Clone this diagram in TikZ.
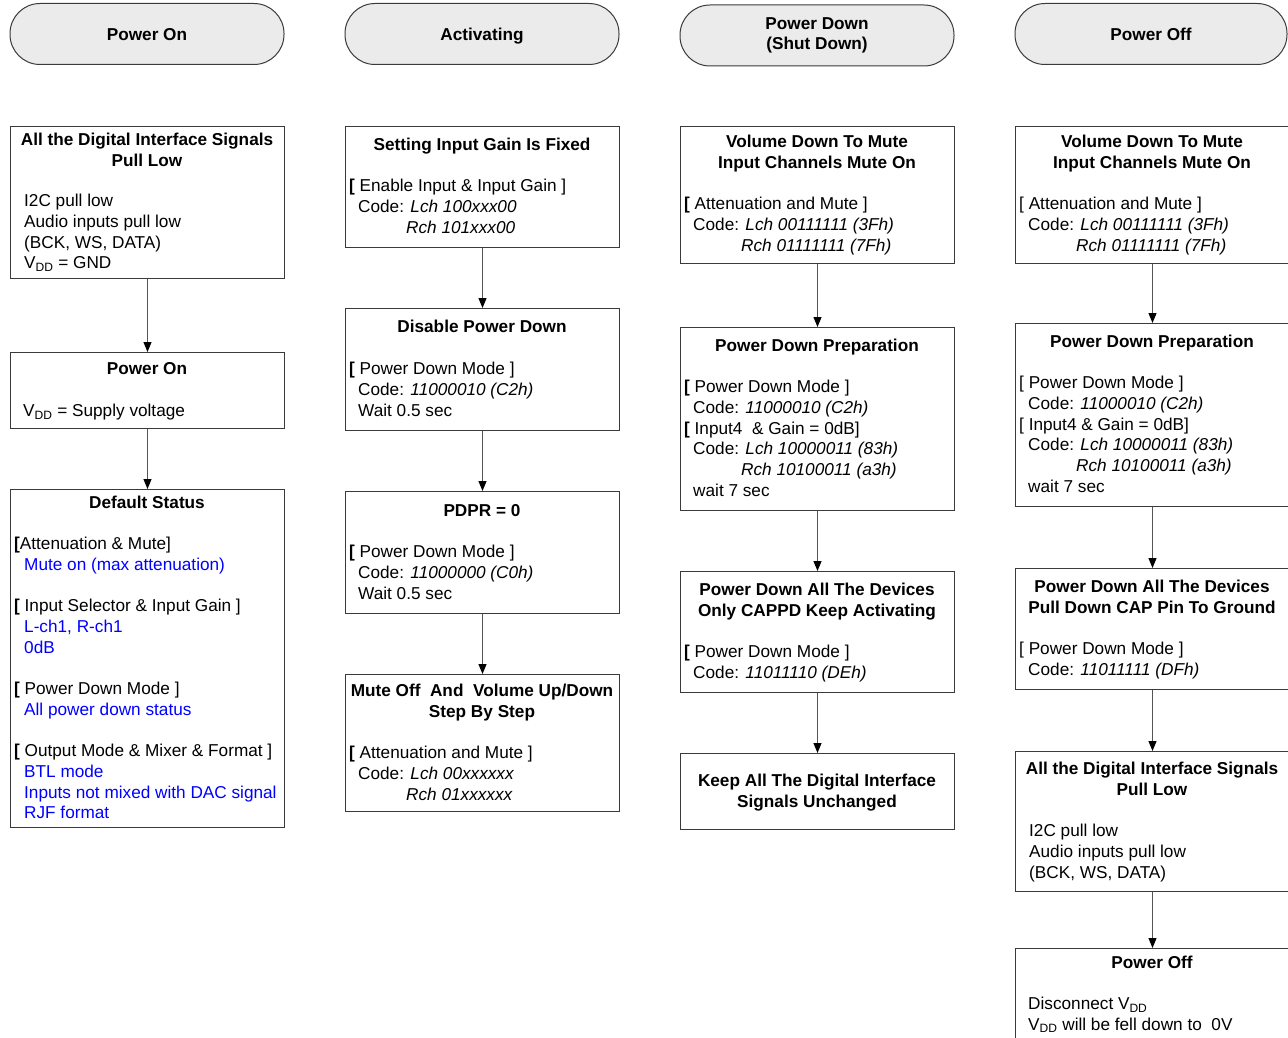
\documentclass[tikz,border=0pt]{standalone}
\usepackage{fontspec}
\setmainfont{Liberation Sans}
\usetikzlibrary{arrows.meta}
\definecolor{hdrfill}{HTML}{EBEBEB}
\definecolor{edge}{HTML}{3A3A3A}
\definecolor{arrline}{HTML}{555555}
\newcommand{\vdd}{V\textsubscript{DD}}
\newcommand{\ob}{\textbf{[}}
\newcommand{\lb}{{[}}
\begin{document}
\begin{tikzpicture}[x=1pt,y=-1pt,
  hdr/.style={draw=edge, line width=1pt, fill=hdrfill, rounded corners=30pt,
    minimum width=274pt, minimum height=61pt, inner sep=0pt, align=center,
    font=\bfseries\fontsize{17.2}{20.7}\selectfont},
  sbox/.style={draw=edge, line width=1pt, minimum width=274pt, anchor=north west, inner sep=0pt},
  ttl/.style={font=\bfseries\fontsize{17.2}{20.7}\selectfont, align=center, inner sep=0pt, anchor=north},
  bdy/.style={font=\fontsize{17.2}{20.7}\selectfont, align=left, inner sep=0pt, anchor=north west},
  arr/.style={draw=arrline, line width=1pt, -{Triangle[length=10pt,width=8pt,color=black]}}
]
\useasboundingbox (0,0) rectangle (1288,1038);
\begin{scope}
\clip (0,0) rectangle (1288,1038);

% headers
\node[hdr, text depth=0pt] (h1) at (147,34) {Power On};
\node[hdr, text depth=0pt] (h2) at (482,34) {Activating};
\node[hdr] (h3) at (817,35.5) {Power Down\\(Shut Down)};
\node[hdr, text depth=0pt, minimum width=272pt] (h4) at (1151,34) {Power Off};

% column 1
\node[sbox, minimum height=152pt] (a1) at (10,126) {};
\node[sbox, minimum height=76pt] (a2) at (10,352) {};
\node[sbox, minimum height=338pt] (a3) at (10,489) {};
\node[ttl] (a1t) at (147,131) {\strut All the Digital Interface Signals\\Pull Low};
\node[bdy] (a1b) at (24,192) {\strut I2C pull low\\Audio inputs pull low\\(BCK, WS, DATA)\\\vdd{} = GND};
\node[ttl] (a2t) at (147,360) {\strut Power On};
\node[bdy] (a2b) at (23,402) {\strut\vdd{} = Supply voltage};
\node[ttl] (a3t) at (147,494) {\strut Default Status};
\node[bdy] (a3b) at (14,535) {\strut\ob Attenuation \& Mute]\\
  \hspace*{10pt}{\color{blue}Mute on (max attenuation)}\\ \mbox{}\\
  \ob\ Input Selector \& Input Gain ]\\
  \hspace*{10pt}{\color{blue}L-ch1, R-ch1}\\
  \hspace*{10pt}{\color{blue}0dB}\\ \mbox{}\\
  \ob\ Power Down Mode ]\\
  \hspace*{10pt}{\color{blue}All power down status}\\ \mbox{}\\
  \ob\ Output Mode \& Mixer \& Format ]\\
  \hspace*{10pt}{\color{blue}BTL mode}\\
  \hspace*{10pt}{\color{blue}Inputs not mixed with DAC signal}\\
  \hspace*{10pt}{\color{blue}RJF format}};

% column 2
\node[sbox, minimum height=121pt] (b1) at (345,126) {};
\node[sbox, minimum height=122pt] (b2) at (345,308) {};
\node[sbox, minimum height=122pt] (b3) at (345,491) {};
\node[sbox, minimum height=137pt] (b4) at (345,674) {};
\node[ttl] (b1t) at (482,136) {\strut Setting Input Gain Is Fixed};
\node[bdy] (b1b) at (349,177) {\strut\ob\ Enable Input \& Input Gain ]\\
  \hspace*{9pt}Code: \textit{Lch 100xxx00}\\
  \hspace*{57pt}\textit{Rch 101xxx00}};
\node[ttl] (b2t) at (482,318) {\strut Disable Power Down};
\node[bdy] (b2b) at (349,360) {\strut\ob\ Power Down Mode ]\\
  \hspace*{9pt}Code: \textit{11000010 (C2h)}\\
  \hspace*{9pt}Wait 0.5 sec};
\node[ttl] (b3t) at (482,502) {\strut PDPR = 0};
\node[bdy] (b3b) at (349,543) {\strut\ob\ Power Down Mode ]\\
  \hspace*{9pt}Code: \textit{11000000 (C0h)}\\
  \hspace*{9pt}Wait 0.5 sec};
\node[ttl] (b4t) at (482,682) {\strut Mute Off\ \ And\ \ Volume Up/Down\\Step By Step};
\node[bdy] (b4b) at (349,744) {\strut\ob\ Attenuation and Mute ]\\
  \hspace*{9pt}Code: \textit{Lch 00xxxxxx}\\
  \hspace*{57pt}\textit{Rch 01xxxxxx}};

% column 3
\node[sbox, minimum height=137pt] (c1) at (680,126) {};
\node[sbox, minimum height=183pt] (c2) at (680,327) {};
\node[sbox, minimum height=121pt] (c3) at (680,571) {};
\node[sbox, minimum height=76pt] (c4) at (680,753) {};
\node[ttl] (c1t) at (817,133) {\strut Volume Down To Mute\\Input Channels Mute On};
\node[bdy] (c1b) at (684,195) {\strut\ob\ Attenuation and Mute ]\\
  \hspace*{9pt}Code: \textit{Lch 00111111 (3Fh)}\\
  \hspace*{57pt}\textit{Rch 01111111 (7Fh)}};
\node[ttl] (c2t) at (817,337) {\strut Power Down Preparation};
\node[bdy] (c2b) at (684,378) {\strut\ob\ Power Down Mode ]\\
  \hspace*{9pt}Code: \textit{11000010 (C2h)}\\
  \ob\ Input4\ \ \& Gain = 0dB]\\
  \hspace*{9pt}Code: \textit{Lch 10000011 (83h)}\\
  \hspace*{57pt}\textit{Rch 10100011 (a3h)}\\
  \hspace*{9pt}wait 7 sec};
\node[ttl] (c3t) at (817,581) {\strut Power Down All The Devices\\ Only CAPPD Keep Activating};
\node[bdy] (c3b) at (684,643) {\strut\ob\ Power Down Mode ]\\
  \hspace*{9pt}Code: \textit{11011110 (DEh)}};
\node[ttl] (c4t) at (817,772) {\strut Keep All The Digital Interface\\Signals Unchanged};

% column 4
\node[sbox, minimum height=137pt] (d1) at (1015,126) {};
\node[sbox, minimum height=183pt] (d2) at (1015,323) {};
\node[sbox, minimum height=121pt] (d3) at (1015,568) {};
\node[sbox, minimum height=140pt] (d4) at (1015,751) {};
\node[sbox, minimum height=140pt] (d5) at (1015,948) {};
\node[ttl] (d1t) at (1152,133) {\strut Volume Down To Mute\\Input Channels Mute On};
\node[bdy] (d1b) at (1019,195) {\strut\lb\ Attenuation and Mute ]\\
  \hspace*{9pt}Code: \textit{Lch 00111111 (3Fh)}\\
  \hspace*{57pt}\textit{Rch 01111111 (7Fh)}};
\node[ttl] (d2t) at (1152,333) {\strut Power Down Preparation};
\node[bdy] (d2b) at (1019,374) {\strut\lb\ Power Down Mode ]\\
  \hspace*{9pt}Code: \textit{11000010 (C2h)}\\
  \lb\ Input4 \& Gain = 0dB]\\
  \hspace*{9pt}Code: \textit{Lch 10000011 (83h)}\\
  \hspace*{57pt}\textit{Rch 10100011 (a3h)}\\
  \hspace*{9pt}wait 7 sec};
\node[ttl] (d3t) at (1152,578) {\strut Power Down All The Devices\\Pull Down CAP Pin To Ground};
\node[bdy] (d3b) at (1019,640) {\strut\lb\ Power Down Mode ]\\
  \hspace*{9pt}Code: \textit{11011111 (DFh)}};
\node[ttl] (d4t) at (1152,760) {\strut All the Digital Interface Signals\\Pull Low};
\node[bdy] (d4b) at (1029,822) {\strut I2C pull low\\Audio inputs pull low\\(BCK, WS, DATA)};
\node[ttl] (d5t) at (1152,954) {\strut Power Off};
\node[bdy] (d5b) at (1028,995) {\strut Disconnect \vdd\\\vdd{} will be fell down to\ \ 0V};

% connectors
\draw[arr] (a1.south) -- (a2.north);
\draw[arr] (a2.south) -- (a3.north);
\draw[arr] (b1.south) -- (b2.north);
\draw[arr] (b2.south) -- (b3.north);
\draw[arr] (b3.south) -- (b4.north);
\draw[arr] (c1.south) -- (c2.north);
\draw[arr] (c2.south) -- (c3.north);
\draw[arr] (c3.south) -- (c4.north);
\draw[arr] (d1.south) -- (d2.north);
\draw[arr] (d2.south) -- (d3.north);
\draw[arr] (d3.south) -- (d4.north);
\draw[arr] (d4.south) -- (d5.north);
\end{scope}
\end{tikzpicture}
\end{document}
